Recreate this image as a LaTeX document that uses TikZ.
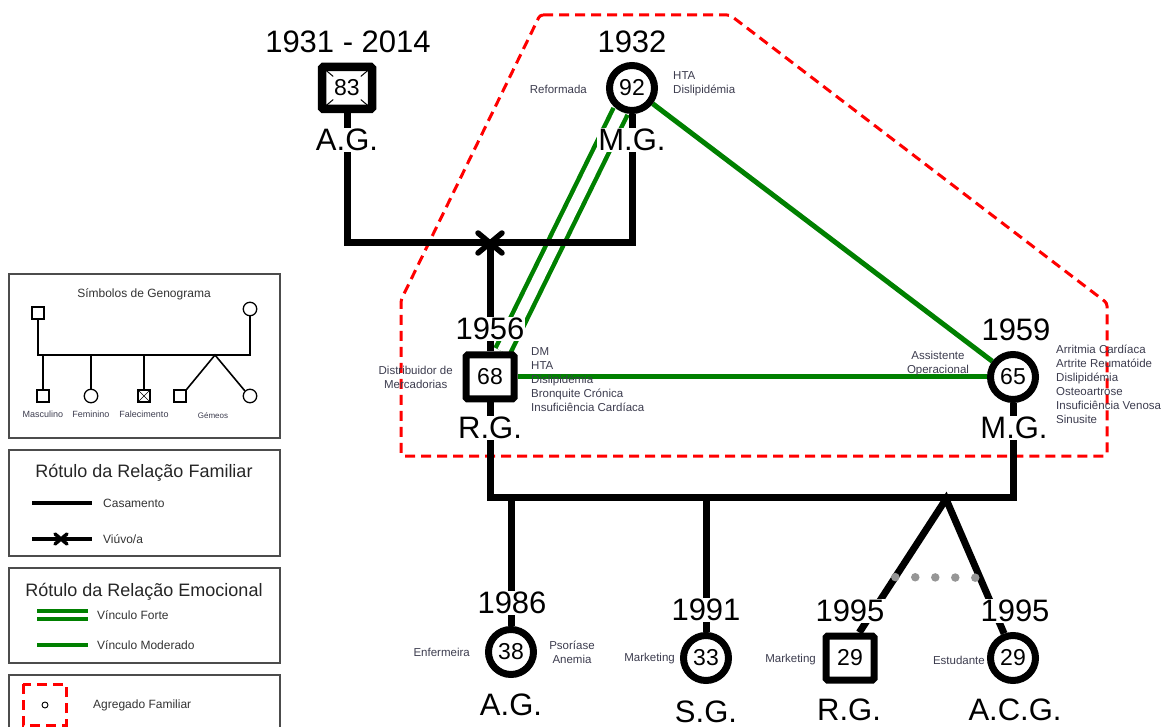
\documentclass[tikz,border=0pt]{standalone}
\usepackage{fontspec}
\setmainfont{Liberation Sans}
\usetikzlibrary{calc}
\pgfdeclarelayer{background}
\pgfsetlayers{background,main}
\definecolor{bondgreen}{RGB}{0,128,0}
\definecolor{infogray}{RGB}{60,60,78}
\definecolor{twingray}{RGB}{150,150,150}
\newcommand{\pxfont}[1]{\fontsize{#1}{#1}\selectfont}

\tikzset{
  person/.style={draw, line width=7pt, fill=white, inner sep=0pt, font=\pxfont{23}},
  male/.style={person, rectangle, rounded corners=1.5pt, minimum width=48pt, minimum height=44pt},
  female/.style={person, circle, minimum size=45pt},
  deceased/.style={male, line width=8.5pt, minimum width=50pt, minimum height=42pt,
    path picture={
      \foreach \corner in {north west,north east,south west,south east}
        \draw[line width=1pt] (path picture bounding box.\corner) --
          ($(path picture bounding box.\corner)!0.45!(path picture bounding box.center)$);
    }},
  year/.style={fill=white, inner sep=1pt, font=\pxfont{31}},
  initials/.style={fill=white, inner sep=1pt, font=\pxfont{31}},
  info/.style={inner sep=0pt, text=infogray, align=left, font=\fontsize{11.5}{14}\selectfont},
  family/.style={line width=7pt},
  widowed/.style={line width=5.5pt, line cap=round},
  strong/.style={draw=bondgreen, line width=4.5pt, double=white, double distance=11pt},
  moderate/.style={draw=bondgreen, line width=5pt},
  twinlink/.style={draw=twingray, line width=8.5pt, line cap=round, dash pattern=on 0pt off 20pt},
  household/.style={draw=red, line width=3pt, dash pattern=on 10pt off 6pt, rounded corners=3pt},
  % legenda
  legendbox/.style={draw=black!70, line width=1.2pt},
  legtitle/.style={inner sep=0pt, text=black!85, font=\pxfont{18}},
  legtext/.style={inner sep=0pt, text=black!80, font=\pxfont{12}},
  legsmall/.style={inner sep=0pt, text=infogray, font=\pxfont{9}},
  lperson/.style={draw, line width=1.3pt, fill=white, inner sep=0pt},
  lmale/.style={lperson, rectangle, minimum size=12pt},
  lfemale/.style={lperson, circle, minimum size=13.5pt},
  ldead/.style={lmale, path picture={
      \draw[line width=0.7pt] (path picture bounding box.north west) -- (path picture bounding box.south east)
        (path picture bounding box.north east) -- (path picture bounding box.south west);}},
  lline/.style={line width=1.6pt},
}

\begin{document}
\begin{tikzpicture}[x=1pt, y=-1pt]
  \useasboundingbox (0,0) rectangle (1168,727);

  % 1a geracao
  \node[deceased] (ag1) at (347,88) {83};
  \node[year] (ag1y) at (348,42) {1931 - 2014};
  \node[initials] (ag1n) at (347,140) {A.G.};
  \node[female] (mg1) at (632,88) {92};
  \node[year] (mg1y) at (632,42) {1932};
  \node[initials] (mg1n) at (632,140) {M.G.};
  \node[info, anchor=east] (mg1job) at (587,89) {Reformada};
  \node[info, anchor=west] (mg1dx) at (673,84) {HTA\\Dislipidémia};

  % 2a geracao
  \node[male] (rg1) at (490,377) {68};
  \node[year] (rg1y) at (490,329) {1956};
  \node[initials] (rg1n) at (490,428) {R.G.};
  \node[info, align=center, anchor=east] (rg1job) at (453,377) {Distribuidor de\\Mercadorias};
  \node[info, anchor=west] (rg1dx) at (531,380) {DM\\HTA\\Dislipidémia\\Bronquite Crónica\\Insuficiência Cardíaca};
  \node[female] (mg2) at (1013,377) {65};
  \node[year] (mg2y) at (1016,330) {1959};
  \node[initials] (mg2n) at (1014,428) {M.G.};
  \node[info, align=center] (mg2job) at (938,364) {Assistente\\Operacional};
  \node[info, anchor=west] (mg2dx) at (1056,384) {Arritmia Cardíaca\\Artrite Reumatóide\\Dislipidémia\\Osteoartrose\\Insuficiência Venosa\\Sinusite};

  % 3a geracao
  \node[female] (ag2) at (511,652) {38};
  \node[year] (ag2y) at (512,603) {1986};
  \node[initials] (ag2n) at (511,705) {A.G.};
  \node[info, anchor=east] (ag2job) at (470,652) {Enfermeira};
  \node[info, align=center] (ag2dx) at (572,652) {Psoríase\\Anemia};
  \node[female] (sg) at (706,658) {33};
  \node[year] (sgy) at (706,610) {1991};
  \node[initials] (sgn) at (706,712) {S.G.};
  \node[info, anchor=east] (sgjob) at (675,659) {Marketing};
  \node[male] (rg2) at (850,658) {29};
  \node[year] (rg2y) at (850,611) {1995};
  \node[initials] (rg2n) at (849,710) {R.G.};
  \node[info, anchor=east] (rg2job) at (816,660) {Marketing};
  \node[female] (acg) at (1013,658) {29};
  \node[year] (acgy) at (1015,611) {1995};
  \node[initials] (acgn) at (1015,710) {A.C.G.};
  \node[info, anchor=east] (acgjob) at (985,660) {Estudante};

  \coordinate (wid) at (490,243);
  \coordinate (kids) at (0,497);
  \coordinate (twin) at (946,499);

  \begin{pgfonlayer}{background}
    % agregado familiar
    \draw[household] (540,15) -- (730,15) -- (1107,303) -- (1107,456) -- (401,456) -- (401,300) -- cycle;
    % relacoes emocionais
    \draw[strong] (rg1) -- (mg1);
    \draw[moderate] (rg1) -- (mg2);
    \draw[moderate] (mg1) -- (mg2);
    % relacoes familiares
    \draw[family] (ag1.south) -- (ag1 |- wid) -| (mg1.south);
    \draw[family] (wid) -- (rg1.north);
    \draw[family] (rg1.south) -- (rg1 |- kids) -| (mg2.south);
    \draw[family] (ag2.north) -- (ag2 |- kids);
    \draw[family] (sg.north) -- (sg |- kids);
    \draw[family] (rg2.70) -- (twin) -- (acg.110);
    \draw[twinlink] ($(twin)!0.585!(rg2.70)$) -- ($(twin)!0.585!(acg.110)$);
  \end{pgfonlayer}
  \draw[widowed] (wid) +(-12,-10) -- +(12,10) (wid) +(-12,10) -- +(12,-10);

  % legenda: simbolos
  \draw[legendbox] (9,274) rectangle (280,438);
  \node[legsmall, font=\pxfont{12}, text=black!80] (symtitle) at (144,294) {Símbolos de Genograma};
  \node[lmale] (lsm1) at (38,313) {};
  \node[lfemale] (lsf1) at (250,309) {};
  \node[lmale] (lsm2) at (43,396) {};
  \node[lfemale] (lsf2) at (91,396) {};
  \node[ldead] (lsd) at (144,396) {};
  \node[lmale] (lst1) at (180,396) {};
  \node[lfemale] (lst2) at (250,396) {};
  \coordinate (lbar) at (0,355);
  \coordinate (ltwin) at (215,355);
  \draw[lline] (lsm1.south) -- (lsm1 |- lbar) -| (lsf1.south);
  \draw[lline] (lsm2.north) -- (lsm2 |- lbar);
  \draw[lline] (lsf2.north) -- (lsf2 |- lbar);
  \draw[lline] (lsd.north) -- (lsd |- lbar);
  \draw[lline] (lst1.north east) -- (ltwin) -- (lst2.135);
  \node[legsmall] (lsmtxt) at (43,414) {Masculino};
  \node[legsmall] (lsftxt) at (91,414) {Feminino};
  \node[legsmall] (lsdtxt) at (144,414) {Falecimento};
  \node[legsmall, font=\pxfont{8}] (lsttxt) at (213,416) {Gémeos};

  % legenda: relacao familiar
  \draw[legendbox] (9,450) rectangle (280,556);
  \node[legtitle] (famtitle) at (144,473) {Rótulo da Relação Familiar};
  \node[legtext, anchor=west] (lcas) at (103,503) {Casamento};
  \node[legtext, anchor=west] (lviu) at (103,539) {Viúvo/a};
  \draw[line width=3.5pt] (lcas.west) ++(-71,0) -- ++(60,0);
  \draw[line width=3.5pt] (lviu.west) ++(-71,0) -- ++(60,0);
  \draw[line width=3.5pt, line cap=round] (lviu.west) ++(-48,-5) -- ++(12,10) ++(-12,0) -- ++(12,-10);

  % legenda: relacao emocional
  \draw[legendbox] (9,568) rectangle (280,663);
  \node[legtitle] (emotitle) at (144,592) {Rótulo da Relação Emocional};
  \node[legtext, anchor=west] (lforte) at (97,615) {Vínculo Forte};
  \node[legtext, anchor=west] (lmod) at (97,645) {Vínculo Moderado};
  \draw[draw=bondgreen, line width=3.8pt, double=white, double distance=3.6pt] (lforte.west) ++(-60,0) -- ++(51,0);
  \draw[draw=bondgreen, line width=3.5pt] (lmod.west) ++(-60,0) -- ++(51,0);

  % legenda: agregado
  \draw[legendbox] (9,675) rectangle (280,745);
  \draw[household, line width=3pt, rounded corners=0pt] (23,684) rectangle (66,725);
  \draw[line width=0.9pt] (45,705) circle (3pt);
  \node[legtext, anchor=west] (lagr) at (93,705) {Agregado Familiar};
\end{tikzpicture}
\end{document}
